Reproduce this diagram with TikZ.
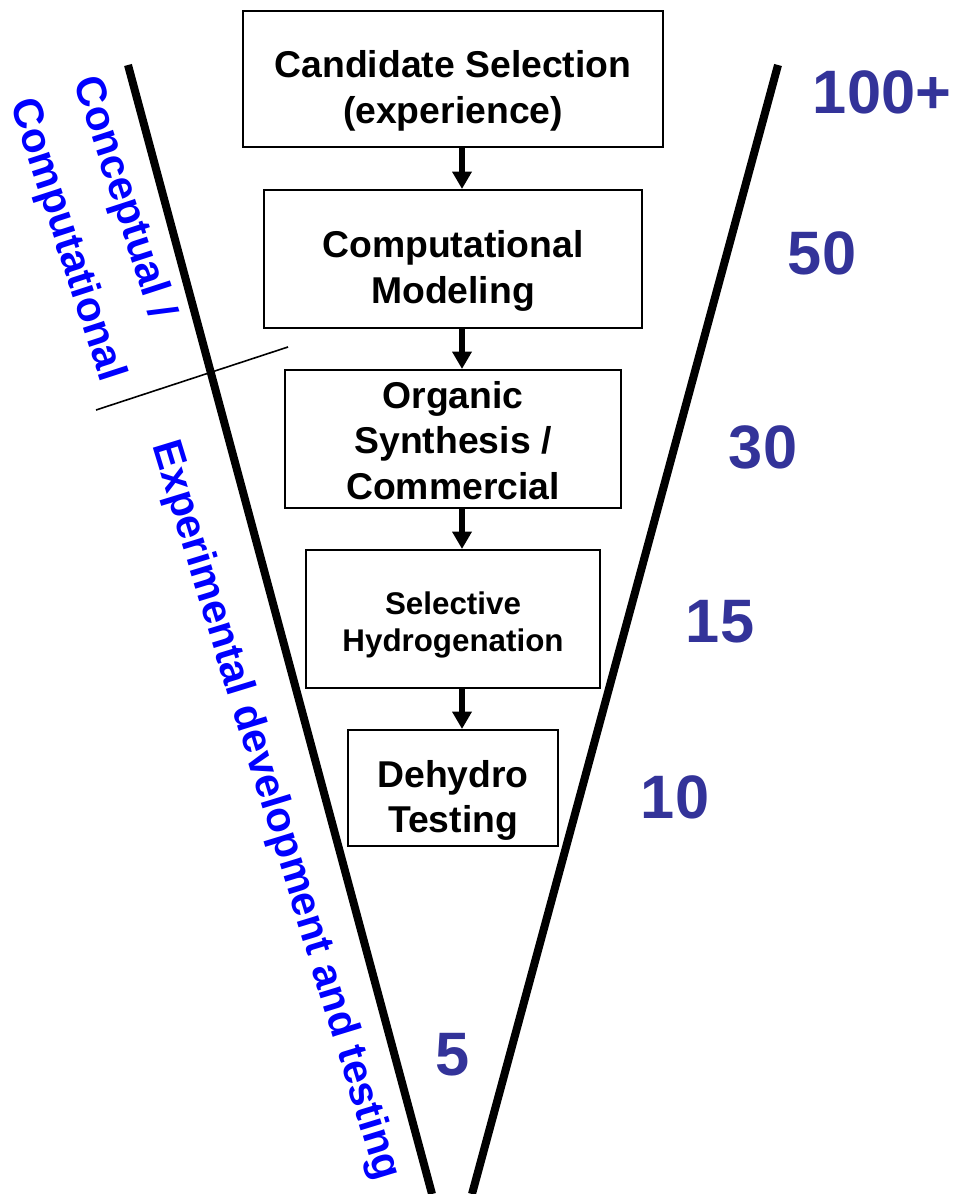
\documentclass[tikz,border=0pt]{standalone}
\usepackage{fontspec}
\setmainfont{Liberation Sans}
\usepackage{tikz}
\usetikzlibrary{arrows.meta}
\definecolor{countblue}{RGB}{51,51,153}

\begin{document}
\begin{tikzpicture}[x=0.75pt,y=-0.75pt,
  stage/.style={draw,line width=1.5pt,inner sep=0pt},
  caption/.style={align=center,font=\fontsize{28}{34}\selectfont\bfseries},
  flow/.style={line width=4.5pt,-{Triangle[width=14pt,length=13pt]}},
  count/.style={text=countblue,font=\fontsize{46}{50}\selectfont\bfseries},
  phase/.style={text=blue,font=\fontsize{31.5}{36}\selectfont\bfseries}]
\useasboundingbox (0,0) rectangle (955,1194);
% funnel
\draw[line width=6pt] (128,65) -- (432,1194);
\draw[line width=6pt] (778,65) -- (472,1194);
\draw[line width=1.2pt] (96,410) -- (288,347);
% stages
\node[stage,minimum width=315pt,minimum height=102pt,
  label={[caption,yshift=-9pt]center:{Candidate Selection\\(experience)}}] (cand) at (453,79) {};
\node[stage,minimum width=283.5pt,minimum height=103.5pt,
  label={[caption,yshift=-9pt]center:{Computational\\Modeling}}] (model) at (453,259) {};
\node[stage,minimum width=252pt,minimum height=103.5pt,
  label={[caption,yshift=-1pt]center:{Organic\\Synthesis /\\Commercial}}] (synth) at (453,439) {};
\node[stage,minimum width=220.5pt,minimum height=103.5pt,
  label={[caption,yshift=-4.5pt,font=\fontsize{23.5}{28}\selectfont\bfseries]center:{Selective\\Hydrogenation}}] (hydro) at (453,619) {};
\node[stage,minimum width=157.5pt,minimum height=87pt,
  label={[caption,yshift=-9.5pt]center:{Dehydro\\Testing}}] (dehyd) at (453,788) {};
\draw[flow] ([xshift=6.75pt]cand.south) -- ([xshift=6.75pt]model.north);
\draw[flow] ([xshift=6.75pt]model.south) -- ([xshift=6.75pt]synth.north);
\draw[flow] ([xshift=6.75pt]synth.south) -- ([xshift=6.75pt]hydro.north);
\draw[flow] ([xshift=6.75pt]hydro.south) -- ([xshift=6.75pt]dehyd.north);
% counts
\node[count] (n100) at (882,92) {100+};
\node[count] (n50) at (822,253) {50};
\node[count] (n30) at (763,447) {30};
\node[count] (n15) at (720,622) {15};
\node[count] (n10) at (675,797) {10};
\node[count] (n5) at (453,1055) {5};
% phases
\node[phase,rotate=-72] (concept) at (123,198) {Conceptual /};
\node[phase,rotate=-72] (comput) at (66,240) {Computational};
\node[phase,rotate=-73] (exper) at (275,811) {Experimental development and testing};
\end{tikzpicture}
\end{document}
